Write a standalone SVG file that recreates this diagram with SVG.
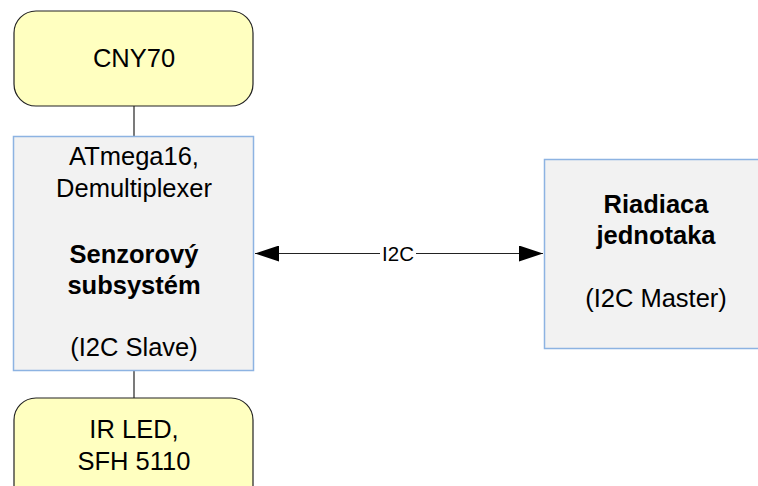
<svg xmlns="http://www.w3.org/2000/svg" width="758" height="486" viewBox="0 0 758 486">
<defs>
<style>
.t{font-family:"Liberation Sans",Arial,sans-serif;font-size:25.5px;fill:#000;text-anchor:middle}
.b{font-weight:bold}
.rnd{fill:#ffffc0;stroke:#222;stroke-width:1.2}
.sq{fill:#f2f2f2;stroke:#8db3e2;stroke-width:1.5}
.ln{stroke:#222;stroke-width:1.2;fill:none}
</style>
<marker id="ah" viewBox="0 0 24 16" refX="24" refY="8" markerWidth="24" markerHeight="16" markerUnits="userSpaceOnUse" orient="auto-start-reverse">
<path d="M0,0 L24,8 L0,16 Z" fill="#000"/>
</marker>
</defs>
<rect width="758" height="486" fill="#fff"/>
<g id="connectors">
<line class="ln" x1="134" y1="106" x2="134" y2="136"/>
<line class="ln" x1="134" y1="371" x2="134" y2="398"/>
<line class="ln" x1="255" y1="253.5" x2="543" y2="253.5" marker-start="url(#ah)" marker-end="url(#ah)"/>
<rect x="380" y="241" width="36" height="24" fill="#fff"/>
<text class="t" x="398" y="261" style="font-size:20.5px">I2C</text>
</g>
<g id="cny70">
<rect class="rnd" x="14" y="11" width="239" height="95" rx="22" ry="22"/>
<text class="t" x="134" y="67">CNY70</text>
</g>
<g id="senzor">
<rect class="sq" x="13.5" y="136.5" width="240" height="234"/>
<text class="t" x="134" y="165">ATmega16,</text>
<text class="t" x="134" y="197">Demultiplexer</text>
<text class="t b" x="134" y="263">Senzorový</text>
<text class="t b" x="134" y="294">subsystém</text>
<text class="t" x="134" y="356">(I2C Slave)</text>
</g>
<g id="irled">
<rect class="rnd" x="14" y="398" width="239" height="110" rx="22" ry="22"/>
<text class="t" x="134" y="438">IR LED,</text>
<text class="t" x="134" y="470">SFH 5110</text>
</g>
<g id="riadiaca">
<rect class="sq" x="544.5" y="159.5" width="230" height="189"/>
<text class="t b" x="656" y="213">Riadiaca</text>
<text class="t b" x="656" y="244">jednotaka</text>
<text class="t" x="656" y="307">(I2C Master)</text>
</g>
</svg>
